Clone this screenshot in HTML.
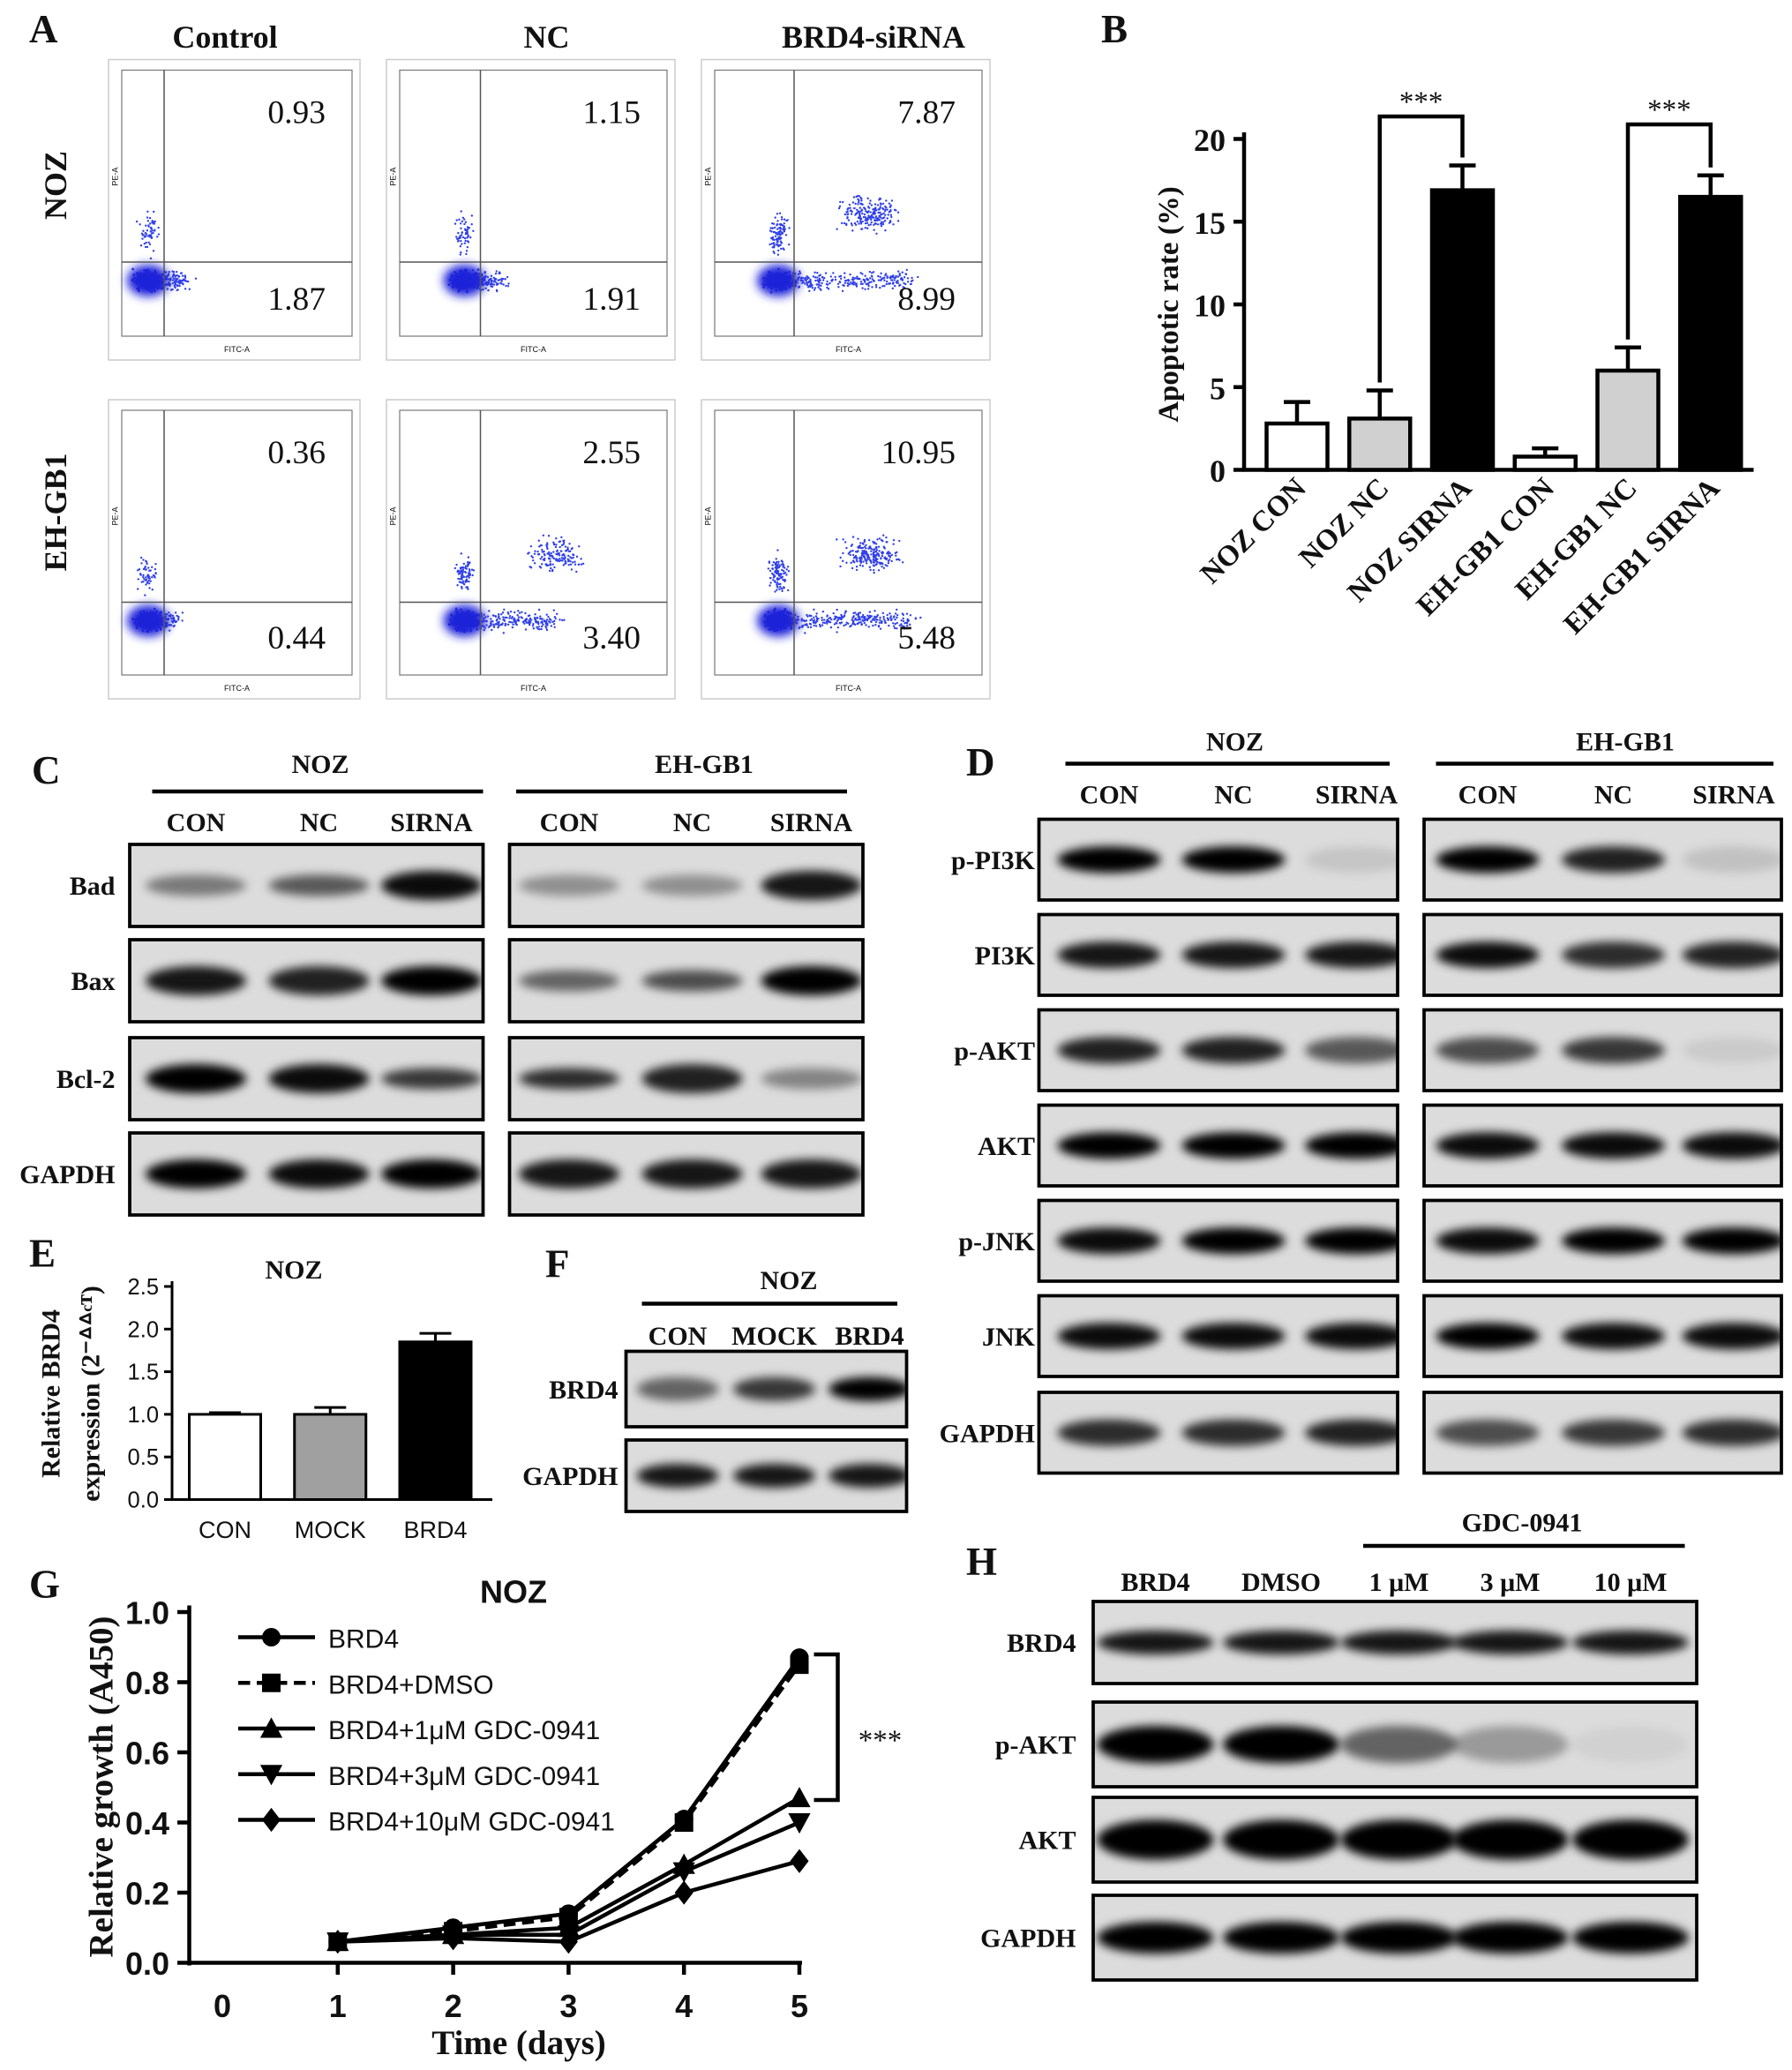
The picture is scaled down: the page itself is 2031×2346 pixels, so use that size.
<!DOCTYPE html>
<html><head><meta charset="utf-8">
<style>
html,body{margin:0;padding:0;background:#fff;}
svg{display:block;}
text{font-family:"Liberation Serif",serif;font-weight:bold;fill:#111;}
.ar{font-family:"Liberation Sans",sans-serif;}
</style></head>
<body>
<svg id="fig" width="2031" height="2346" viewBox="0 0 1354 1564" xmlns="http://www.w3.org/2000/svg">
<defs id="defs">
<filter id="blur3" x="-50%" y="-100%" width="200%" height="300%"><feGaussianBlur stdDeviation="3.5"/></filter>
</defs>
<g id="root"></g>
</svg>
<script>
// ---------- Panel B data ----------
const bCategories=["NOZ CON","NOZ NC","NOZ SIRNA","EH-GB1 CON","EH-GB1 NC","EH-GB1 SIRNA"];
const bValues=[2.8,3.1,16.9,0.8,6.0,16.5];
const bErrors=[1.3,1.7,1.5,0.5,1.4,1.3];
const bFills=["#fff","#d0d0d0","#000","#fff","#d0d0d0","#000"];
const bTicks=[0,5,10,15,20];
// ---------- Panel E data ----------
const eCategories=["CON","MOCK","BRD4"];
const eValues=[1.0,1.0,1.85];
const eErrors=[0.02,0.08,0.1];
const eFills=["#fff","#a0a0a0","#000"];
const eTicks=[0,0.5,1.0,1.5,2.0,2.5];
// ---------- Panel G data ----------
const gDays=[1,2,3,4,5];
const gSeriesNames=["BRD4","BRD4+DMSO","BRD4+1μM GDC-0941","BRD4+3μM GDC-0941","BRD4+10μM GDC-0941"];
const gBRD4=[0.06,0.10,0.14,0.41,0.87];
const gDMSO=[0.06,0.09,0.13,0.40,0.85];
const g1uM=[0.06,0.08,0.10,0.28,0.47];
const g3uM=[0.06,0.08,0.08,0.26,0.40];
const g10uM=[0.06,0.07,0.06,0.20,0.29];
const gYTicks=[0.0,0.2,0.4,0.6,0.8,1.0];
const gXTicks=[0,1,2,3,4,5];

const NS="http://www.w3.org/2000/svg";
const root=document.getElementById('root');
const defs=document.getElementById('defs');
function el(tag,attrs,parent,txt){const e=document.createElementNS(NS,tag);for(const k in attrs)e.setAttribute(k,attrs[k]);if(txt!==undefined)e.textContent=txt;(parent||root).appendChild(e);return e;}
function T(x,y,s,size,anchor,cls,rot,name,parent){const a={x:x,y:y,'font-size':size,'text-anchor':anchor||'middle'};if(cls)a['class']=cls;if(rot)a.transform=`rotate(${rot} ${x} ${y})`;const t=el('text',a,parent,s);


return t;}
function N(t){t.style.fontWeight='normal';return t;}
function L(x1,y1,x2,y2,w,parent,dash){const a={x1,y1,x2,y2,stroke:'#000','stroke-width':w||2};if(dash)a['stroke-dasharray']=dash;return el('line',a,parent);}

[["A",22,32],["B",832,32],["C",24,592],["D",730,586],["E",22,957],["F",412,965],["G",22,1207],["H",730,1190]].forEach(p=>{T(p[1],p[2],p[0],30,'start',null,0,'panel-label-'+p[0].toLowerCase());});

// ---------- Panel A ----------
const gA=el('g',{});


[["Control",170],["NC",413],["BRD4-siRNA",660]].forEach(c=>T(c[1],36,c[0],24,'middle',null,0,'column-header',gA));
T(50,140,"NOZ",24,'middle',null,-90,'row-label-noz',gA);
T(50,387,"EH-GB1",24,'middle',null,-90,'row-label-eh-gb1',gA);
const cols=[[82,272,124],[292,510,363],[530,748,600]];
const rows=[[45,272,198],[302,528,455]];
const nums=[["0.93","1.87"],["1.15","1.91"],["7.87","8.99"],["0.36","0.44"],["2.55","3.40"],["10.95","5.48"]];
let seed=7;function rnd(){seed=(seed*16807)%2147483647;return seed/2147483647;}
function gauss(){return (rnd()+rnd()+rnd()-1.5)/1.5;}
rows.forEach((r,ri)=>cols.forEach((c,ci)=>{
 const idx=ri*3+ci;const g=el('g',{},gA);
 
 
 el('rect',{x:c[0],y:r[0],width:c[1]-c[0],height:r[1]-r[0],fill:'#fff',stroke:'#ccc','stroke-width':1},g);
 const px=c[0]+10,py=r[0]+8,pw=c[1]-c[0]-16,ph=r[1]-r[0]-26;
 el('rect',{x:px,y:py,width:pw,height:ph,fill:'none',stroke:'#777','stroke-width':0.8},g);
 const cx=c[2]-12, cy=r[2]+14;
 const strength=[0.3,0.3,1,0.2,0.7,1][idx];
 for(let i=0;i<260;i++){el('circle',{cx:cx+gauss()*14,cy:cy+gauss()*10,r:0.9,fill:'#2030e0'},g);}
 for(let i=0;i<Math.round(80+200*strength);i++){el('circle',{cx:cx+rnd()*100*strength+gauss()*10,cy:cy+gauss()*10,r:0.8,fill:'#3040e8'},g);}
 for(let i=0;i<Math.round(60*strength+40);i++){el('circle',{cx:cx+gauss()*10,cy:cy-35+gauss()*20,r:0.8,fill:'#3040e8'},g);}
 if(idx==2||idx==5||idx==4){for(let i=0;i<Math.round(220*strength);i++){el('circle',{cx:cx+70+gauss()*30,cy:cy-50+gauss()*18,r:0.8,fill:'#3040e8'},g);}}
 el('ellipse',{cx:cx,cy:cy,rx:16,ry:12,fill:'#1a22d8',filter:'url(#blur3)'},g);
 L(c[2],py,c[2],py+ph,1,g).setAttribute('stroke','#555');
 L(px,r[2],px+pw,r[2],1,g).setAttribute('stroke','#555');
 N(T(c[1]-26,r[0]+48,nums[idx][0],25,'end',null,0,'quadrant-value',g));
 N(T(c[1]-26,r[1]-38,nums[idx][1],25,'end',null,0,'quadrant-value',g));
 N(T(px+pw/2,r[1]-6,"FITC-A",6,'middle','ar',0,'x-axis-title',g));
 N(T(px-3,py+ph*0.4,"PE-A",6,'middle','ar',-90,'y-axis-title',g));
}));

// ---------- Panel B ----------
const gB=el('g',{});


const bY=v=>355-v*12.5;const bX=i=>980+i*62.5;
L(940,100,940,356,3,gB);L(939,355,1325,355,3,gB);
bTicks.forEach(t=>{L(932,bY(t),940,bY(t),3,gB);T(926,bY(t)+9,String(t),24,'end',null,0,'y-tick',gB);});
T(890,230,"Apoptotic rate (%)",22,'middle',null,-90,'y-axis-title',gB);
bValues.forEach((v,i)=>{const x=bX(i);
 const b=el('rect',{x:x-23,y:bY(v),width:46,height:355-bY(v),fill:bFills[i],stroke:'#000','stroke-width':3},gB);
 
 
 L(x,bY(v),x,bY(v+bErrors[i]),3,gB);L(x-10,bY(v+bErrors[i]),x+10,bY(v+bErrors[i]),3,gB);
 T(x+8,370,bCategories[i],22,'end',null,-45,'x-tick',gB);
});
function sig(i,j,yTop){el('polyline',{points:`${bX(i)},${bY(bValues[i]+bErrors[i])-6} ${bX(i)},${yTop} ${bX(j)},${yTop} ${bX(j)},${bY(bValues[j]+bErrors[j])-6}`,fill:'none',stroke:'#000','stroke-width':3},gB);
 N(T((bX(i)+bX(j))/2,yTop-4,"***",22,'middle',null,0,'significance-stars',gB));}
sig(1,2,88);sig(4,5,94);

// ---------- Blots ----------
let clipN=0;
function band(g,cx,cy,w,h,o){if(o<=0)return;const e=el('ellipse',{cx:cx,cy:cy,rx:w/2,ry:h/2,fill:'#000','fill-opacity':o,filter:'url(#blur3)'},g);
 
 }
function blotBox(g,x1,x2,y1,y2,name){
 const id='clip'+(clipN++);const cp=el('clipPath',{id:id},defs);el('rect',{x:x1,y:y1,width:x2-x1,height:y2-y1},cp);
 const r=el('rect',{x:x1,y:y1,width:x2-x1,height:y2-y1,fill:'#dcdcdc'},g);
 
 
 const inner=el('g',{'clip-path':`url(#${id})`},g);
 el('rect',{x:x1,y:y1,width:x2-x1,height:y2-y1,fill:'none',stroke:'#000','stroke-width':2.5},g);
 return inner;}

// Panel C
const gC=el('g',{});


T(242,584,"NOZ",20,'middle',null,0,'group-header',gC);L(115,598,365,598,3,gC);
T(532,584,"EH-GB1",20,'middle',null,0,'group-header',gC);L(390,598,640,598,3,gC);
const cLanes=[148,241,326,430,523,613];
["CON","NC","SIRNA","CON","NC","SIRNA"].forEach((s,i)=>T(cLanes[i],628,s,20,'middle',null,0,'lane-label',gC));
const cRows=[["Bad",638,700,[0.45,0.6,0.95,0.35,0.35,0.9]],["Bax",710,772,[0.9,0.85,1,0.55,0.65,1]],["Bcl-2",784,846,[1,0.95,0.75,0.8,0.85,0.4]],["GAPDH",856,918,[1,0.95,1,0.9,0.9,0.9]]];
cRows.forEach(r=>{T(87,r[1]+(r[2]-r[1])/2+7,r[0],20,'end',null,0,'row-label',gC);
 const a=blotBox(gC,98,365,r[1],r[2],'blot-'+r[0].toLowerCase());const b=blotBox(gC,385,652,r[1],r[2],'blot-'+r[0].toLowerCase());
 r[3].forEach((o,i)=>band(i<3?a:b,cLanes[i],(r[1]+r[2])/2,76,o>0.8?22:16,o));});

// Panel D
const gD=el('g',{});


T(933,567,"NOZ",20,'middle',null,0,'group-header',gD);L(805,577,1050,577,3,gD);
T(1228,567,"EH-GB1",20,'middle',null,0,'group-header',gD);L(1085,577,1340,577,3,gD);
const dLanes=[838,932,1025,1124,1219,1310];
["CON","NC","SIRNA","CON","NC","SIRNA"].forEach((s,i)=>T(dLanes[i],607,s,20,'middle',null,0,'lane-label',gD));
const dRows=[["p-PI3K",619,680,[1,1,0.1,1,0.85,0.12]],["PI3K",691,752,[0.9,0.9,0.9,0.95,0.8,0.85]],["p-AKT",763,824,[0.85,0.85,0.6,0.65,0.75,0.08]],["AKT",835,896,[1,1,1,0.95,0.95,0.95]],["p-JNK",907,968,[0.95,1,1,0.95,1,1]],["JNK",979,1040,[0.95,0.95,0.95,1,0.95,0.95]],["GAPDH",1052,1113,[0.8,0.8,0.85,0.65,0.75,0.8]]];
dRows.forEach(r=>{T(782,r[1]+(r[2]-r[1])/2+7,r[0],20,'end',null,0,'row-label',gD);
 const a=blotBox(gD,785,1056,r[1],r[2],'blot-'+r[0].toLowerCase());const b=blotBox(gD,1076,1346,r[1],r[2],'blot-'+r[0].toLowerCase());
 r[3].forEach((o,i)=>band(i<3?a:b,dLanes[i],(r[1]+r[2])/2,78,20,o));});

// Panel E
const gE=el('g',{});


const eY=v=>1133-v*64.4;const eX=i=>170+i*79.5;
T(222,966,"NOZ",20,'middle',null,0,'chart-title',gE);
L(130,968,130,1134,2,gE);L(129,1133,372,1133,2,gE);
eTicks.forEach(t=>{L(124,eY(t),130,eY(t),2,gE);N(T(120,eY(t)+6,t.toFixed(1),17,'end','ar',0,'y-tick',gE));});
eValues.forEach((v,i)=>{const x=eX(i);
 const b=el('rect',{x:x-27,y:eY(v),width:54,height:1133-eY(v),fill:eFills[i],stroke:'#000','stroke-width':2},gE);
 
 
 L(x,eY(v),x,eY(v+eErrors[i]),2,gE);L(x-12,eY(v+eErrors[i]),x+12,eY(v+eErrors[i]),2,gE);
 N(T(x,1162,eCategories[i],18,'middle','ar',0,'x-tick',gE));});
T(45,1053,"Relative BRD4",20,'middle',null,-90,'y-axis-title',gE);
T(75,1053,"expression (2⁻ᐞᐞᶜᵀ)",20,'middle',null,-90,'y-axis-title',gE);

// Panel F
const gF=el('g',{});


T(596,974,"NOZ",20,'middle',null,0,'group-header',gF);L(485,985,678,985,3,gF);
const fLanes=[512,585,657];
["CON","MOCK","BRD4"].forEach((s,i)=>T(fLanes[i],1016,s,20,'middle',null,0,'lane-label',gF));
[["BRD4",1021,1078,[0.55,0.75,1]],["GAPDH",1088,1142,[0.9,0.9,0.9]]].forEach(r=>{T(467,r[1]+(r[2]-r[1])/2+7,r[0],20,'end',null,0,'row-label',gF);
 const a=blotBox(gF,473,685,r[1],r[2],'blot-'+r[0].toLowerCase());r[3].forEach((o,i)=>band(a,fLanes[i],(r[1]+r[2])/2,62,18,o));});

// Panel G
const gG=el('g',{});


const gY=v=>1483-v*265;const gX=d=>168+d*87.2;
T(388,1211,"NOZ",24,'middle','ar',0,'chart-title',gG);
L(143,1213,143,1485,3,gG);L(142,1483,606,1483,3,gG);
gYTicks.forEach(t=>{L(134,gY(t),143,gY(t),3,gG);T(128,gY(t)+9,t.toFixed(1),24,'end','ar',0,'y-tick',gG);});
gXTicks.forEach(t=>{if(t>0)L(gX(t),1483,gX(t),1492,3,gG);T(gX(t),1524,String(t),24,'middle','ar',0,'x-tick',gG);});
T(392,1552,"Time (days)",26,'middle',null,0,'x-axis-title',gG);
T(85,1350,"Relative growth (A450)",26,'middle',null,-90,'y-axis-title',gG);
const gSeries=[gBRD4,gDMSO,g1uM,g3uM,g10uM];
const markers=['circle','square','tri','tridown','diamond'];
function marker(g,type,x,y,s){let e;
 if(type=='circle')e=el('circle',{cx:x,cy:y,r:s},g);
 else if(type=='square')e=el('rect',{x:x-s,y:y-s,width:2*s,height:2*s},g);
 else if(type=='tri')e=el('polygon',{points:`${x},${y-s*1.2} ${x-s*1.2},${y+s} ${x+s*1.2},${y+s}`},g);
 else if(type=='tridown')e=el('polygon',{points:`${x},${y+s*1.2} ${x-s*1.2},${y-s} ${x+s*1.2},${y-s}`},g);
 else e=el('polygon',{points:`${x},${y-s*1.3} ${x-s},${y} ${x},${y+s*1.3} ${x+s},${y}`},g);
 e.setAttribute('fill','#000');
 
 }
gSeries.forEach((s,si)=>{const sg=el('g',{},gG);
 
 
 const pl=el('polyline',{points:s.map((v,i)=>gX(gDays[i])+','+gY(v)).join(' '),fill:'none',stroke:'#000','stroke-width':3},sg);
 if(si==1)pl.setAttribute('stroke-dasharray','9,5');
 s.forEach((v,i)=>marker(sg,markers[si],gX(gDays[i]),gY(v),7));
 const ly=1237+si*34.5;
 L(180,ly,238,ly,3,sg,si==1?'9,5':null);
 marker(sg,markers[si],205,ly,7);
 N(T(248,ly+8,gSeriesNames[si],20,'start','ar',0,'legend-entry',sg));});
el('polyline',{points:'615,1250 633,1250 633,1360 615,1360',fill:'none',stroke:'#000','stroke-width':3},gG);
N(T(665,1322,"***",22,'middle',null,0,'significance-stars',gG));

// Panel H
const gH=el('g',{});


T(1150,1157,"GDC-0941",20,'middle',null,0,'group-header',gH);L(1030,1168,1273,1168,3,gH);
const hLanes=[873,968,1057,1141,1232];
["BRD4","DMSO","1 μM","3 μM","10 μM"].forEach((s,i)=>T(hLanes[i],1202,s,20,'middle',null,0,'lane-label',gH));
[["BRD4",1210,1272,[0.9,0.9,0.9,0.9,0.9],18],["p-AKT",1286,1350,[1,1,0.55,0.3,0.05],28],["AKT",1358,1422,[1,1,1,1,1],30],["GAPDH",1432,1496,[1,1,1,1,1],24]].forEach(r=>{T(813,r[1]+(r[2]-r[1])/2+7,r[0],20,'end',null,0,'row-label',gH);
 const a=blotBox(gH,826,1282,r[1],r[2],'blot-'+r[0].toLowerCase());r[3].forEach((o,i)=>band(a,hLanes[i],(r[1]+r[2])/2,88,r[4],o));});
</script>
</body></html>
